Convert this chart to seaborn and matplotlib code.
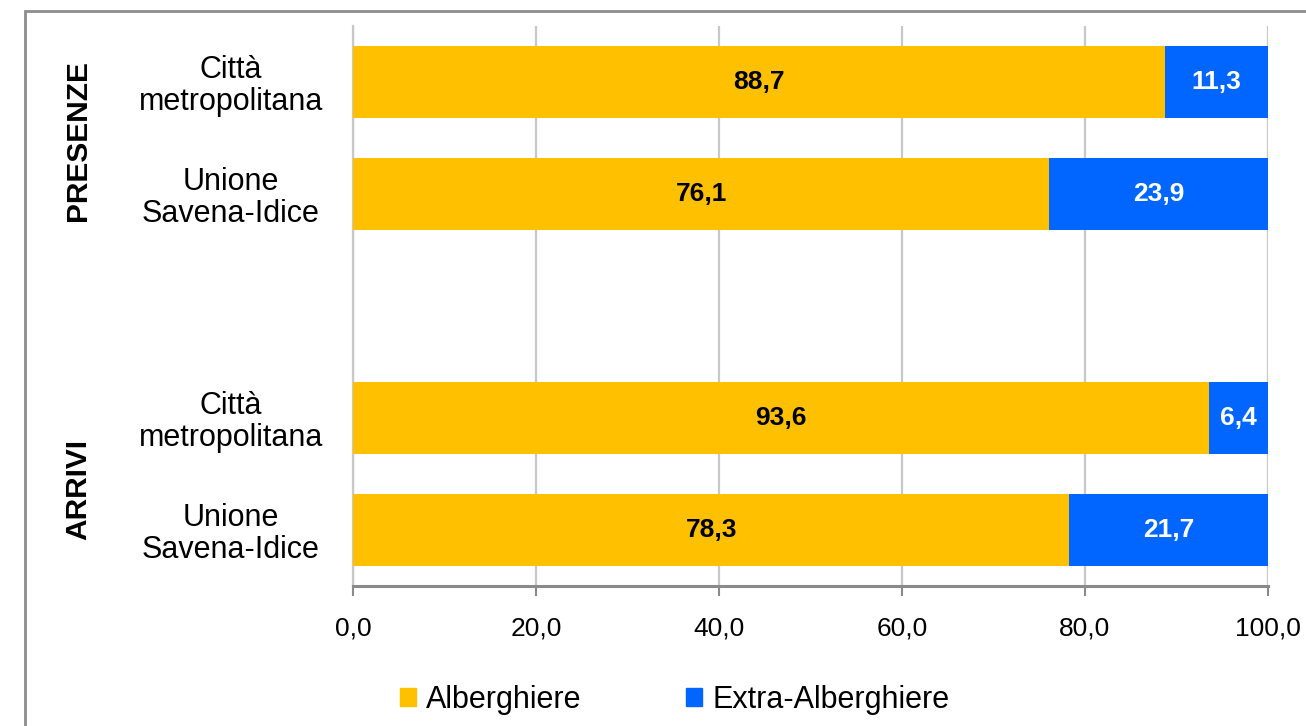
import matplotlib
matplotlib.use("Agg")
import matplotlib.pyplot as plt
import matplotlib.patches as mpatches
import pandas as pd
import seaborn as sns

# Data: share (%) of tourist flows by type of accommodation
groups = ["PRESENZE", "PRESENZE", "ARRIVI", "ARRIVI"]
areas = ["Città\nmetropolitana", "Unione\nSavena-Idice",
         "Città\nmetropolitana", "Unione\nSavena-Idice"]
alberghiere = [88.7, 76.1, 93.6, 78.3]
extra_alberghiere = [11.3, 23.9, 6.4, 21.7]
x_ticks = [0, 20, 40, 60, 80, 100]
series_names = ["Alberghiere", "Extra-Alberghiere"]

# Row slots: two bars per group with an empty slot between the groups
slots = [0, 1, 3, 4]

YELLOW = "#FFC000"
BLUE = "#0066FF"

sns.set_theme(style="white")
plt.rcParams["font.family"] = ["Liberation Sans", "DejaVu Sans"]
plt.rcParams["text.color"] = "black"
plt.rcParams["xtick.labelcolor"] = "black"
plt.rcParams["ytick.labelcolor"] = "black"

df = pd.DataFrame({
    "slot": slots,
    "area": areas,
    "alb": alberghiere,
    "extra": extra_alberghiere,
})
df["total"] = df["alb"] + df["extra"]

fig = plt.figure(figsize=(13.06, 7.26), dpi=100)
ax = fig.add_axes([353 / 1306, 1 - 586 / 726, (1268 - 353) / 1306, (586 - 26) / 726])

# Stacked bars: full length in blue, Alberghiere segment drawn over it
sns.barplot(data=df, x="total", y="slot", orient="h", native_scale=True,
            color=BLUE, saturation=1, width=0.64, ax=ax, zorder=3)
sns.barplot(data=df, x="alb", y="slot", orient="h", native_scale=True,
            color=YELLOW, saturation=1, width=0.64, ax=ax, zorder=4)

for p in ax.patches:
    p.set_edgecolor("none")
    p.set_linewidth(0)

# Value labels centered in each segment
for s, a, e in zip(slots, alberghiere, extra_alberghiere):
    ax.text(a / 2, s, f"{a:.1f}".replace(".", ","), ha="center", va="center",
            fontsize=19, fontweight="bold", color="black", zorder=5)
    ax.text(a + e / 2, s, f"{e:.1f}".replace(".", ","), ha="center", va="center",
            fontsize=19, fontweight="bold", color="white", zorder=5)

ax.set_xlim(0, 100)
ax.set_ylim(4.5, -0.5)
ax.set_xticks(x_ticks)
ax.set_xticklabels([f"{v:.1f}".replace(".", ",") for v in x_ticks], fontsize=19)
ax.set_yticks(slots)
ax.set_yticklabels(areas, fontsize=22, ha="center", linespacing=1.05)
ax.tick_params(axis="y", length=0, pad=88)
ax.tick_params(axis="x", length=7, width=1.5, color="#8A8A8A", pad=15,
               direction="out", bottom=True)
ax.set_xlabel("")
ax.set_ylabel("")

# Vertical gridlines
ax.grid(axis="x", color="#C8C8C8", linewidth=1.6, zorder=0)
ax.set_axisbelow(True)
for side in ["top", "right"]:
    ax.spines[side].set_visible(False)
ax.spines["left"].set_color("#C8C8C8")
ax.spines["left"].set_linewidth(1.6)
ax.spines["bottom"].set_color("#8A8A8A")
ax.spines["bottom"].set_linewidth(2.2)

# Group labels
fig.text(78 / 1306, 1 - 141 / 726, "PRESENZE", rotation=90, ha="center", va="center",
         fontsize=21.5, fontweight="bold")
fig.text(78 / 1306, 1 - 490 / 726, "ARRIVI", rotation=90, ha="center", va="center",
         fontsize=21.5, fontweight="bold")

# Legend
handles = [mpatches.Patch(color=YELLOW, label=series_names[0]),
           mpatches.Patch(color=BLUE, label=series_names[1])]
fig.legend(handles=handles, loc="center", bbox_to_anchor=(0.5165, 1 - 700 / 726),
           ncol=2, frameon=False, fontsize=22, handlelength=0.52, handleheight=0.52,
           handletextpad=0.35, columnspacing=3.4)

# Chart frame
frame = mpatches.Rectangle((25 / 1306, -0.2), 1.2, 1 - 11 / 726 + 0.2,
                           transform=fig.transFigure, fill=False,
                           edgecolor="#8C8C8C", linewidth=2, zorder=0)
fig.patches.append(frame)

fig.savefig("out.png", dpi=100)
